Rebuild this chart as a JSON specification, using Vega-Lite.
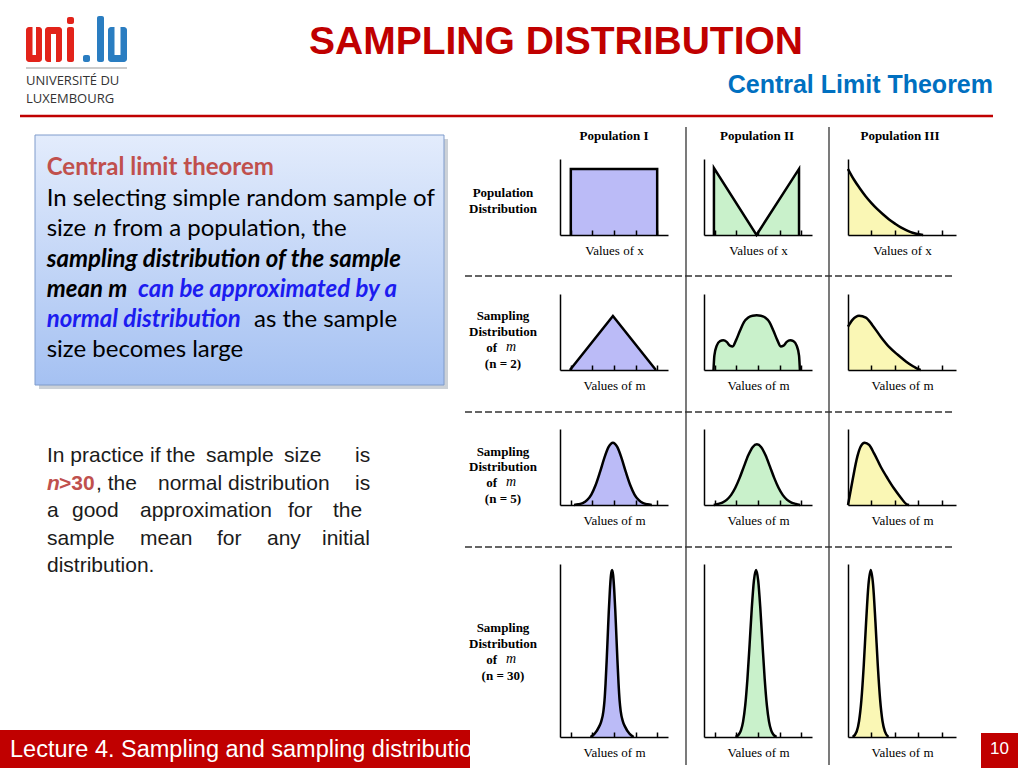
{
"$schema":"https://vega.github.io/schema/vega-lite/v6.json",
"padding":0,
"background":"white",
"bounds":"flush",
"spacing":0,
"config":{
 "aria":false,
 "view":{"stroke":null},
 "text":{"baseline":"alphabetic","align":"left","font":"Liberation Sans","color":"black"},
 "axisX":{"domainColor":"black","domainWidth":1.5,"tickColor":"black","tickWidth":1.5,"tickSize":-5,"labels":false,"grid":false,"titleFont":"Liberation Serif","titleFontSize":13,"titleFontWeight":"normal","titleColor":"black","titlePadding":9},
 "axisY":{"domainColor":"black","domainWidth":1.5,"ticks":false,"labels":false,"grid":false}
},
"datasets":{"curves":[
{"p":"I0","x":0.5,"y":0},{"p":"I0","x":0.501,"y":0.87},{"p":"I0","x":4.499,"y":0.87},{"p":"I0","x":4.5,"y":0},
{"p":"II0","x":0.46,"y":0},{"p":"II0","x":0.461,"y":0.88},{"p":"II0","x":2.43,"y":0},{"p":"II0","x":4.399,"y":0.87},{"p":"II0","x":4.4,"y":0},
{"p":"III0","x":0,"y":0.868},{"p":"III0","x":0.25,"y":0.73},{"p":"III0","x":0.5,"y":0.615},{"p":"III0","x":0.75,"y":0.51},{"p":"III0","x":1,"y":0.42},{"p":"III0","x":1.25,"y":0.34},{"p":"III0","x":1.5,"y":0.27},{"p":"III0","x":1.75,"y":0.205},{"p":"III0","x":2,"y":0.15},{"p":"III0","x":2.25,"y":0.1},{"p":"III0","x":2.5,"y":0.062},{"p":"III0","x":2.75,"y":0.03},{"p":"III0","x":3,"y":0.01},{"p":"III0","x":3.2,"y":0},
{"p":"I2","x":0.46,"y":0},{"p":"I2","x":2.45,"y":0.71},{"p":"I2","x":4.44,"y":0},
{"p":"II2","x":0.44,"y":0},{"p":"II2","x":0.48,"y":0.19},{"p":"II2","x":0.59,"y":0.32},{"p":"II2","x":0.74,"y":0.38},{"p":"II2","x":0.89,"y":0.39},{"p":"II2","x":1.05,"y":0.37},{"p":"II2","x":1.2,"y":0.32},{"p":"II2","x":1.33,"y":0.31},{"p":"II2","x":1.48,"y":0.39},{"p":"II2","x":1.67,"y":0.52},{"p":"II2","x":1.85,"y":0.63},{"p":"II2","x":2.05,"y":0.69},{"p":"II2","x":2.25,"y":0.715},{"p":"II2","x":2.44,"y":0.72},{"p":"II2","x":2.63,"y":0.715},{"p":"II2","x":2.83,"y":0.69},{"p":"II2","x":3.03,"y":0.63},{"p":"II2","x":3.21,"y":0.52},{"p":"II2","x":3.4,"y":0.39},{"p":"II2","x":3.55,"y":0.31},{"p":"II2","x":3.68,"y":0.32},{"p":"II2","x":3.83,"y":0.37},{"p":"II2","x":3.99,"y":0.39},{"p":"II2","x":4.14,"y":0.38},{"p":"II2","x":4.29,"y":0.32},{"p":"II2","x":4.4,"y":0.19},{"p":"II2","x":4.44,"y":0},
{"p":"III2","x":0,"y":0.57},{"p":"III2","x":0.19,"y":0.66},{"p":"III2","x":0.47,"y":0.715},{"p":"III2","x":0.76,"y":0.69},{"p":"III2","x":1.04,"y":0.59},{"p":"III2","x":1.4,"y":0.435},{"p":"III2","x":1.76,"y":0.3},{"p":"III2","x":2.12,"y":0.2},{"p":"III2","x":2.48,"y":0.11},{"p":"III2","x":2.77,"y":0.05},{"p":"III2","x":2.98,"y":0.013},{"p":"III2","x":3.1,"y":0},
{"p":"I5","x":0.65,"y":0},{"p":"I5","x":0.85,"y":0.009},{"p":"I5","x":1.05,"y":0.025},{"p":"I5","x":1.25,"y":0.063},{"p":"I5","x":1.45,"y":0.138},{"p":"I5","x":1.65,"y":0.263},{"p":"I5","x":1.85,"y":0.432},{"p":"I5","x":2.05,"y":0.617},{"p":"I5","x":2.25,"y":0.764},{"p":"I5","x":2.45,"y":0.82},{"p":"I5","x":2.65,"y":0.764},{"p":"I5","x":2.85,"y":0.617},{"p":"I5","x":3.05,"y":0.432},{"p":"I5","x":3.25,"y":0.263},{"p":"I5","x":3.45,"y":0.138},{"p":"I5","x":3.65,"y":0.063},{"p":"I5","x":3.85,"y":0.025},{"p":"I5","x":4.05,"y":0.009},{"p":"I5","x":4.25,"y":0},
{"p":"II5","x":0.45,"y":0},{"p":"II5","x":0.65,"y":0.014},{"p":"II5","x":0.85,"y":0.032},{"p":"II5","x":1.05,"y":0.068},{"p":"II5","x":1.25,"y":0.13},{"p":"II5","x":1.45,"y":0.227},{"p":"II5","x":1.65,"y":0.357},{"p":"II5","x":1.85,"y":0.508},{"p":"II5","x":2.05,"y":0.654},{"p":"II5","x":2.25,"y":0.761},{"p":"II5","x":2.45,"y":0.8},{"p":"II5","x":2.65,"y":0.761},{"p":"II5","x":2.85,"y":0.654},{"p":"II5","x":3.05,"y":0.508},{"p":"II5","x":3.25,"y":0.357},{"p":"II5","x":3.45,"y":0.227},{"p":"II5","x":3.65,"y":0.13},{"p":"II5","x":3.85,"y":0.068},{"p":"II5","x":4.05,"y":0.032},{"p":"II5","x":4.25,"y":0.014},{"p":"II5","x":4.45,"y":0},
{"p":"III5","x":0,"y":0},{"p":"III5","x":0.19,"y":0.32},{"p":"III5","x":0.4,"y":0.64},{"p":"III5","x":0.54,"y":0.77},{"p":"III5","x":0.71,"y":0.82},{"p":"III5","x":0.9,"y":0.79},{"p":"III5","x":1.11,"y":0.68},{"p":"III5","x":1.4,"y":0.5},{"p":"III5","x":1.69,"y":0.348},{"p":"III5","x":1.97,"y":0.213},{"p":"III5","x":2.26,"y":0.093},{"p":"III5","x":2.48,"y":0.013},{"p":"III5","x":2.6,"y":0},
{"p":"I30","x":1.41,"y":0},{"p":"I30","x":1.61,"y":0.02},{"p":"I30","x":1.81,"y":0.06},{"p":"I30","x":1.91,"y":0.09},{"p":"I30","x":2.01,"y":0.15},{"p":"I30","x":2.06,"y":0.21},{"p":"I30","x":2.11,"y":0.31},{"p":"I30","x":2.16,"y":0.44},{"p":"I30","x":2.21,"y":0.585},{"p":"I30","x":2.26,"y":0.73},{"p":"I30","x":2.31,"y":0.85},{"p":"I30","x":2.36,"y":0.935},{"p":"I30","x":2.41,"y":0.965},{"p":"I30","x":2.46,"y":0.935},{"p":"I30","x":2.51,"y":0.85},{"p":"I30","x":2.56,"y":0.73},{"p":"I30","x":2.61,"y":0.585},{"p":"I30","x":2.66,"y":0.44},{"p":"I30","x":2.71,"y":0.31},{"p":"I30","x":2.76,"y":0.21},{"p":"I30","x":2.81,"y":0.15},{"p":"I30","x":2.91,"y":0.09},{"p":"I30","x":3.01,"y":0.06},{"p":"I30","x":3.21,"y":0.02},{"p":"I30","x":3.41,"y":0},
{"p":"II30","x":1.46,"y":0},{"p":"II30","x":1.61,"y":0.014},{"p":"II30","x":1.71,"y":0.038},{"p":"II30","x":1.81,"y":0.089},{"p":"II30","x":1.91,"y":0.184},{"p":"II30","x":2.01,"y":0.335},{"p":"II30","x":2.11,"y":0.532},{"p":"II30","x":2.21,"y":0.74},{"p":"II30","x":2.31,"y":0.903},{"p":"II30","x":2.41,"y":0.965},{"p":"II30","x":2.51,"y":0.903},{"p":"II30","x":2.61,"y":0.74},{"p":"II30","x":2.71,"y":0.532},{"p":"II30","x":2.81,"y":0.335},{"p":"II30","x":2.91,"y":0.184},{"p":"II30","x":3.01,"y":0.089},{"p":"II30","x":3.11,"y":0.038},{"p":"II30","x":3.21,"y":0.014},{"p":"II30","x":3.36,"y":0},
{"p":"III30","x":0.2,"y":0},{"p":"III30","x":0.37,"y":0.032},{"p":"III30","x":0.47,"y":0.091},{"p":"III30","x":0.57,"y":0.213},{"p":"III30","x":0.67,"y":0.412},{"p":"III30","x":0.77,"y":0.661},{"p":"III30","x":0.87,"y":0.878},{"p":"III30","x":0.97,"y":0.965},{"p":"III30","x":1.07,"y":0.878},{"p":"III30","x":1.17,"y":0.661},{"p":"III30","x":1.27,"y":0.412},{"p":"III30","x":1.37,"y":0.213},{"p":"III30","x":1.47,"y":0.091},{"p":"III30","x":1.57,"y":0.032},{"p":"III30","x":1.72,"y":0}
]},
"hconcat":[
{
 "width":560,"height":768,
 "data":{"values":[{}]},
 "layer":[
  {"mark":{"type":"rect","color":"#8f98a6","opacity":0.45},"encoding":{"x":{"datum":39,"type":"quantitative","scale":{"domain":[0,560],"nice":false,"zero":false},"axis":null},"x2":{"datum":448},"y":{"datum":139,"type":"quantitative","scale":{"domain":[0,768],"nice":false,"zero":false,"reverse":true},"axis":null},"y2":{"datum":389}}},
  {"mark":{"type":"rect","fill":{"gradient":"linear","x1":0,"y1":0,"x2":0,"y2":1,"stops":[{"offset":0,"color":"#E3ECFC"},{"offset":1,"color":"#A5C1F2"}]},"stroke":"#7E9BCB","strokeWidth":1},"encoding":{"x":{"datum":35,"axis":null},"x2":{"datum":444},"y":{"datum":135,"axis":null},"y2":{"datum":385}}},

  {"mark":{"type":"rect","color":"#E2231A","cornerRadius":3},"encoding":{"x":{"datum":26,"axis":null},"x2":{"datum":42},"y":{"datum":27,"axis":null},"y2":{"datum":62}}},
  {"mark":{"type":"rect","color":"white"},"encoding":{"x":{"datum":32.5,"axis":null},"x2":{"datum":36},"y":{"datum":26,"axis":null},"y2":{"datum":55}}},
  {"mark":{"type":"rect","color":"#E2231A","cornerRadius":3},"encoding":{"x":{"datum":45,"axis":null},"x2":{"datum":62},"y":{"datum":27,"axis":null},"y2":{"datum":62}}},
  {"mark":{"type":"rect","color":"white"},"encoding":{"x":{"datum":51,"axis":null},"x2":{"datum":56},"y":{"datum":34,"axis":null},"y2":{"datum":63}}},
  {"mark":{"type":"rect","color":"#E2231A","cornerRadius":2},"encoding":{"x":{"datum":67,"axis":null},"x2":{"datum":74},"y":{"datum":27,"axis":null},"y2":{"datum":62}}},
  {"mark":{"type":"rect","color":"#E2231A","cornerRadius":2},"encoding":{"x":{"datum":67,"axis":null},"x2":{"datum":74},"y":{"datum":17,"axis":null},"y2":{"datum":24}}},
  {"mark":{"type":"rect","color":"#2A7DC1","cornerRadius":2},"encoding":{"x":{"datum":83,"axis":null},"x2":{"datum":90},"y":{"datum":55,"axis":null},"y2":{"datum":62}}},
  {"mark":{"type":"rect","color":"#2A7DC1","cornerRadius":2},"encoding":{"x":{"datum":97,"axis":null},"x2":{"datum":104},"y":{"datum":16,"axis":null},"y2":{"datum":62}}},
  {"mark":{"type":"rect","color":"#2A7DC1","cornerRadius":3},"encoding":{"x":{"datum":108,"axis":null},"x2":{"datum":127},"y":{"datum":27,"axis":null},"y2":{"datum":62}}},
  {"mark":{"type":"rect","color":"white"},"encoding":{"x":{"datum":114.5,"axis":null},"x2":{"datum":120.5},"y":{"datum":26,"axis":null},"y2":{"datum":55}}},
  {"mark":{"type":"rule","color":"#999999","strokeWidth":1},"encoding":{"x":{"datum":26,"axis":null},"x2":{"datum":127},"y":{"datum":68,"axis":null}}},
  {"mark":{"type":"text","font":"Open Sans","fontSize":13,"color":"#333333"},"encoding":{"x":{"datum":26,"axis":null},"y":{"datum":85,"axis":null},"text":{"value":"UNIVERSITÉ DU"}}},
  {"mark":{"type":"text","font":"Open Sans","fontSize":13,"color":"#333333"},"encoding":{"x":{"datum":26,"axis":null},"y":{"datum":103,"axis":null},"text":{"value":"LUXEMBOURG"}}},

  {"mark":{"type":"text","align":"center","fontSize":39,"fontWeight":"bold","color":"#C00000"},"encoding":{"x":{"datum":556,"axis":null},"y":{"datum":54,"axis":null},"text":{"value":"SAMPLING DISTRIBUTION"}}},
  {"mark":{"type":"text","align":"right","fontSize":25,"fontWeight":"bold","color":"#0070C0"},"encoding":{"x":{"datum":993,"axis":null},"y":{"datum":93,"axis":null},"text":{"value":"Central Limit Theorem"}}},
  {"mark":{"type":"rule","color":"#C00000","strokeWidth":2.5},"encoding":{"x":{"datum":20,"axis":null},"x2":{"datum":993},"y":{"datum":116,"axis":null}}},

  {"mark":{"type":"text","font":"Lato","fontSize":24,"fontWeight":"bold","color":"#C0504D"},"encoding":{"x":{"datum":46.7,"axis":null},"y":{"datum":175,"axis":null},"text":{"value":"Central limit theorem"}}},
  {"mark":{"type":"text","font":"Lato","fontSize":24},"encoding":{"x":{"datum":46.7,"axis":null},"y":{"datum":206,"axis":null},"text":{"value":"In selecting simple random sample of"}}},
  {"mark":{"type":"text","font":"Lato","fontSize":24},"encoding":{"x":{"datum":46.7,"axis":null},"y":{"datum":236,"axis":null},"text":{"value":"size"}}},
  {"mark":{"type":"text","font":"Lato","fontSize":24,"fontStyle":"italic"},"encoding":{"x":{"datum":94,"axis":null},"y":{"datum":236,"axis":null},"text":{"value":"n"}}},
  {"mark":{"type":"text","font":"Lato","fontSize":24},"encoding":{"x":{"datum":113,"axis":null},"y":{"datum":236,"axis":null},"text":{"value":"from a population, the"}}},
  {"mark":{"type":"text","font":"Lato","fontSize":24,"fontWeight":"bold","fontStyle":"italic"},"encoding":{"x":{"datum":46.7,"axis":null},"y":{"datum":267,"axis":null},"text":{"value":"sampling distribution of the sample"}}},
  {"mark":{"type":"text","font":"Lato","fontSize":24,"fontWeight":"bold","fontStyle":"italic"},"encoding":{"x":{"datum":46.7,"axis":null},"y":{"datum":297,"axis":null},"text":{"value":"mean m"}}},
  {"mark":{"type":"text","font":"Lato","fontSize":24,"fontWeight":"bold","fontStyle":"italic","color":"#1C1CF0"},"encoding":{"x":{"datum":138,"axis":null},"y":{"datum":297,"axis":null},"text":{"value":"can be approximated by a"}}},
  {"mark":{"type":"text","font":"Lato","fontSize":24,"fontWeight":"bold","fontStyle":"italic","color":"#1C1CF0"},"encoding":{"x":{"datum":46.7,"axis":null},"y":{"datum":327,"axis":null},"text":{"value":"normal distribution"}}},
  {"mark":{"type":"text","font":"Lato","fontSize":24},"encoding":{"x":{"datum":254,"axis":null},"y":{"datum":327,"axis":null},"text":{"value":"as the sample"}}},
  {"mark":{"type":"text","font":"Lato","fontSize":24},"encoding":{"x":{"datum":46.7,"axis":null},"y":{"datum":357,"axis":null},"text":{"value":"size becomes large"}}},

  {"mark":{"type":"text","fontSize":21,"color":"#1b1b1b"},"encoding":{"x":{"datum":47,"axis":null},"y":{"datum":462,"axis":null},"text":{"value":"In practice"}}},
  {"mark":{"type":"text","fontSize":21,"color":"#1b1b1b"},"encoding":{"x":{"datum":150,"axis":null},"y":{"datum":462,"axis":null},"text":{"value":"if the"}}},
  {"mark":{"type":"text","fontSize":21,"color":"#1b1b1b"},"encoding":{"x":{"datum":206,"axis":null},"y":{"datum":462,"axis":null},"text":{"value":"sample"}}},
  {"mark":{"type":"text","fontSize":21,"color":"#1b1b1b"},"encoding":{"x":{"datum":284,"axis":null},"y":{"datum":462,"axis":null},"text":{"value":"size"}}},
  {"mark":{"type":"text","fontSize":21,"color":"#1b1b1b"},"encoding":{"x":{"datum":355,"axis":null},"y":{"datum":462,"axis":null},"text":{"value":"is"}}},
  {"mark":{"type":"text","fontSize":21,"fontWeight":"bold","fontStyle":"italic","color":"#C0504D"},"encoding":{"x":{"datum":47,"axis":null},"y":{"datum":490,"axis":null},"text":{"value":"n"}}},
  {"mark":{"type":"text","fontSize":21,"fontWeight":"bold","color":"#C0504D"},"encoding":{"x":{"datum":59,"axis":null},"y":{"datum":490,"axis":null},"text":{"value":">30"}}},
  {"mark":{"type":"text","fontSize":21,"color":"#1b1b1b"},"encoding":{"x":{"datum":96,"axis":null},"y":{"datum":490,"axis":null},"text":{"value":", the"}}},
  {"mark":{"type":"text","fontSize":21,"color":"#1b1b1b"},"encoding":{"x":{"datum":158,"axis":null},"y":{"datum":490,"axis":null},"text":{"value":"normal"}}},
  {"mark":{"type":"text","fontSize":21,"color":"#1b1b1b"},"encoding":{"x":{"datum":228,"axis":null},"y":{"datum":490,"axis":null},"text":{"value":"distribution"}}},
  {"mark":{"type":"text","fontSize":21,"color":"#1b1b1b"},"encoding":{"x":{"datum":355,"axis":null},"y":{"datum":490,"axis":null},"text":{"value":"is"}}},
  {"mark":{"type":"text","fontSize":21,"color":"#1b1b1b"},"encoding":{"x":{"datum":47,"axis":null},"y":{"datum":517,"axis":null},"text":{"value":"a"}}},
  {"mark":{"type":"text","fontSize":21,"color":"#1b1b1b"},"encoding":{"x":{"datum":72,"axis":null},"y":{"datum":517,"axis":null},"text":{"value":"good"}}},
  {"mark":{"type":"text","fontSize":21,"color":"#1b1b1b"},"encoding":{"x":{"datum":140,"axis":null},"y":{"datum":517,"axis":null},"text":{"value":"approximation"}}},
  {"mark":{"type":"text","fontSize":21,"color":"#1b1b1b"},"encoding":{"x":{"datum":288,"axis":null},"y":{"datum":517,"axis":null},"text":{"value":"for\u00a0"}}},
  {"mark":{"type":"text","fontSize":21,"color":"#1b1b1b"},"encoding":{"x":{"datum":333,"axis":null},"y":{"datum":517,"axis":null},"text":{"value":"the"}}},
  {"mark":{"type":"text","fontSize":21,"color":"#1b1b1b"},"encoding":{"x":{"datum":47,"axis":null},"y":{"datum":545,"axis":null},"text":{"value":"sample"}}},
  {"mark":{"type":"text","fontSize":21,"color":"#1b1b1b"},"encoding":{"x":{"datum":140,"axis":null},"y":{"datum":545,"axis":null},"text":{"value":"mean"}}},
  {"mark":{"type":"text","fontSize":21,"color":"#1b1b1b"},"encoding":{"x":{"datum":217,"axis":null},"y":{"datum":545,"axis":null},"text":{"value":"for\u00a0"}}},
  {"mark":{"type":"text","fontSize":21,"color":"#1b1b1b"},"encoding":{"x":{"datum":267,"axis":null},"y":{"datum":545,"axis":null},"text":{"value":"any"}}},
  {"mark":{"type":"text","fontSize":21,"color":"#1b1b1b"},"encoding":{"x":{"datum":322,"axis":null},"y":{"datum":545,"axis":null},"text":{"value":"initial"}}},
  {"mark":{"type":"text","fontSize":21,"color":"#1b1b1b"},"encoding":{"x":{"datum":47,"axis":null},"y":{"datum":572,"axis":null},"text":{"value":"distribution."}}},

  {"mark":{"type":"rule","color":"#333333","strokeWidth":1.3},"encoding":{"x":{"datum":686,"axis":null},"y":{"datum":127,"axis":null},"y2":{"datum":765}}},
  {"mark":{"type":"rule","color":"#333333","strokeWidth":1.3},"encoding":{"x":{"datum":829,"axis":null},"y":{"datum":127,"axis":null},"y2":{"datum":765}}},
  {"mark":{"type":"rule","color":"#333333","strokeWidth":1.3,"strokeDash":[7,3]},"encoding":{"x":{"datum":465,"axis":null},"x2":{"datum":955},"y":{"datum":276,"axis":null}}},
  {"mark":{"type":"rule","color":"#333333","strokeWidth":1.3,"strokeDash":[7,3]},"encoding":{"x":{"datum":465,"axis":null},"x2":{"datum":955},"y":{"datum":412,"axis":null}}},
  {"mark":{"type":"rule","color":"#333333","strokeWidth":1.3,"strokeDash":[7,3]},"encoding":{"x":{"datum":465,"axis":null},"x2":{"datum":955},"y":{"datum":547,"axis":null}}},

  {"mark":{"type":"text","align":"center","font":"Liberation Serif","fontSize":13,"fontWeight":"bold"},"encoding":{"x":{"datum":614,"axis":null},"y":{"datum":139.5,"axis":null},"text":{"value":"Population I"}}},
  {"mark":{"type":"text","align":"center","font":"Liberation Serif","fontSize":13,"fontWeight":"bold"},"encoding":{"x":{"datum":757,"axis":null},"y":{"datum":139.5,"axis":null},"text":{"value":"Population II"}}},
  {"mark":{"type":"text","align":"center","font":"Liberation Serif","fontSize":13,"fontWeight":"bold"},"encoding":{"x":{"datum":900,"axis":null},"y":{"datum":139.5,"axis":null},"text":{"value":"Population III"}}},

  {"mark":{"type":"text","align":"center","baseline":"middle","font":"Liberation Serif","fontSize":13,"fontWeight":"bold"},"encoding":{"x":{"datum":503,"axis":null},"y":{"datum":193,"axis":null},"text":{"value":"Population"}}},
  {"mark":{"type":"text","align":"center","baseline":"middle","font":"Liberation Serif","fontSize":13,"fontWeight":"bold"},"encoding":{"x":{"datum":503,"axis":null},"y":{"datum":209,"axis":null},"text":{"value":"Distribution"}}},

  {"mark":{"type":"text","align":"center","baseline":"middle","font":"Liberation Serif","fontSize":13,"fontWeight":"bold"},"encoding":{"x":{"datum":503,"axis":null},"y":{"datum":316,"axis":null},"text":{"value":"Sampling"}}},
  {"mark":{"type":"text","align":"center","baseline":"middle","font":"Liberation Serif","fontSize":13,"fontWeight":"bold"},"encoding":{"x":{"datum":503,"axis":null},"y":{"datum":332,"axis":null},"text":{"value":"Distribution"}}},
  {"mark":{"type":"text","align":"right","baseline":"middle","font":"Liberation Serif","fontSize":13,"fontWeight":"bold"},"encoding":{"x":{"datum":497,"axis":null},"y":{"datum":348,"axis":null},"text":{"value":"of\u00a0"}}},
  {"mark":{"type":"text","align":"left","baseline":"middle","font":"Liberation Serif","fontSize":14,"fontStyle":"italic"},"encoding":{"x":{"datum":506,"axis":null},"y":{"datum":347,"axis":null},"text":{"value":"m\u00a0"}}},
  {"mark":{"type":"text","align":"center","baseline":"middle","font":"Liberation Serif","fontSize":13,"fontWeight":"bold"},"encoding":{"x":{"datum":503,"axis":null},"y":{"datum":364,"axis":null},"text":{"value":"(n = 2)"}}},

  {"mark":{"type":"text","align":"center","baseline":"middle","font":"Liberation Serif","fontSize":13,"fontWeight":"bold"},"encoding":{"x":{"datum":503,"axis":null},"y":{"datum":452,"axis":null},"text":{"value":"Sampling"}}},
  {"mark":{"type":"text","align":"center","baseline":"middle","font":"Liberation Serif","fontSize":13,"fontWeight":"bold"},"encoding":{"x":{"datum":503,"axis":null},"y":{"datum":467,"axis":null},"text":{"value":"Distribution"}}},
  {"mark":{"type":"text","align":"right","baseline":"middle","font":"Liberation Serif","fontSize":13,"fontWeight":"bold"},"encoding":{"x":{"datum":497,"axis":null},"y":{"datum":483,"axis":null},"text":{"value":"of\u00a0"}}},
  {"mark":{"type":"text","align":"left","baseline":"middle","font":"Liberation Serif","fontSize":14,"fontStyle":"italic"},"encoding":{"x":{"datum":506,"axis":null},"y":{"datum":482,"axis":null},"text":{"value":"m\u00a0"}}},
  {"mark":{"type":"text","align":"center","baseline":"middle","font":"Liberation Serif","fontSize":13,"fontWeight":"bold"},"encoding":{"x":{"datum":503,"axis":null},"y":{"datum":499,"axis":null},"text":{"value":"(n = 5)"}}},

  {"mark":{"type":"text","align":"center","baseline":"middle","font":"Liberation Serif","fontSize":13,"fontWeight":"bold"},"encoding":{"x":{"datum":503,"axis":null},"y":{"datum":628,"axis":null},"text":{"value":"Sampling"}}},
  {"mark":{"type":"text","align":"center","baseline":"middle","font":"Liberation Serif","fontSize":13,"fontWeight":"bold"},"encoding":{"x":{"datum":503,"axis":null},"y":{"datum":644,"axis":null},"text":{"value":"Distribution"}}},
  {"mark":{"type":"text","align":"right","baseline":"middle","font":"Liberation Serif","fontSize":13,"fontWeight":"bold"},"encoding":{"x":{"datum":497,"axis":null},"y":{"datum":660,"axis":null},"text":{"value":"of\u00a0"}}},
  {"mark":{"type":"text","align":"left","baseline":"middle","font":"Liberation Serif","fontSize":14,"fontStyle":"italic"},"encoding":{"x":{"datum":506,"axis":null},"y":{"datum":659,"axis":null},"text":{"value":"m\u00a0"}}},
  {"mark":{"type":"text","align":"center","baseline":"middle","font":"Liberation Serif","fontSize":13,"fontWeight":"bold"},"encoding":{"x":{"datum":503,"axis":null},"y":{"datum":676,"axis":null},"text":{"value":"(n = 30)"}}},

  {"mark":{"type":"rect","color":"#C00000"},"encoding":{"x":{"datum":0,"axis":null},"x2":{"datum":470},"y":{"datum":730,"axis":null},"y2":{"datum":768}}},
  {"mark":{"type":"text","fontSize":23.5,"color":"white"},"encoding":{"x":{"datum":10,"axis":null},"y":{"datum":757,"axis":null},"text":{"value":"Lecture 4. Sampling and sampling distribution"}}},
  {"mark":{"type":"rect","color":"#C00000"},"encoding":{"x":{"datum":981,"axis":null},"x2":{"datum":1018},"y":{"datum":733,"axis":null},"y2":{"datum":768}}},
  {"mark":{"type":"text","align":"center","fontSize":17,"color":"white"},"encoding":{"x":{"datum":999.5,"axis":null},"y":{"datum":754,"axis":null},"text":{"value":"10"}}}
 ]
},
{
 "concat":[
  {"width":108,"height":100,"data":{"values":[{}]},"mark":{"type":"text"},"encoding":{"text":{"value":" "}}},
  {"width":108,"height":100,"data":{"values":[{}]},"mark":{"type":"text"},"encoding":{"text":{"value":" "}}},
  {"width":108,"height":100,"data":{"values":[{}]},"mark":{"type":"text"},"encoding":{"text":{"value":" "}}},
   {"width":108,"height":76,"data":{"name":"curves"},"transform":[{"filter":"datum.p=='I0'"}],"mark":{"type":"area","interpolate":"linear","color":"#BBBBF7","opacity":1,"line":{"color":"black","strokeWidth":2.5}},"encoding":{"x":{"field":"x","type":"quantitative","scale":{"domain":[0,5],"nice":false,"zero":false},"axis":{"values":[0.5,1.5,2.5,3.5,4.5],"title":"Values of x","zindex":1}},"y":{"field":"y","type":"quantitative","stack":null,"scale":{"domain":[0,1],"nice":false},"axis":{"title":null,"zindex":1}}}},
   {"width":108,"height":76,"data":{"name":"curves"},"transform":[{"filter":"datum.p=='II0'"}],"mark":{"type":"area","interpolate":"linear","color":"#C9F1CB","opacity":1,"line":{"color":"black","strokeWidth":2.5}},"encoding":{"x":{"field":"x","type":"quantitative","scale":{"domain":[0,5],"nice":false,"zero":false},"axis":{"values":[0.5,1.5,2.5,3.5,4.5],"title":"Values of x","zindex":1}},"y":{"field":"y","type":"quantitative","stack":null,"scale":{"domain":[0,1],"nice":false},"axis":{"title":null,"zindex":1}}}},
   {"width":108,"height":76,"data":{"name":"curves"},"transform":[{"filter":"datum.p=='III0'"}],"mark":{"type":"area","interpolate":"monotone","color":"#FAF7B5","opacity":1,"line":{"color":"black","strokeWidth":2.5}},"encoding":{"x":{"field":"x","type":"quantitative","scale":{"domain":[0,4.6],"nice":false,"zero":false},"axis":{"values":[1,2,3,4],"title":"Values of x","zindex":1}},"y":{"field":"y","type":"quantitative","stack":null,"scale":{"domain":[0,1],"nice":false},"axis":{"title":null,"zindex":1}}}},
   {"width":108,"height":76,"data":{"name":"curves"},"transform":[{"filter":"datum.p=='I2'"}],"mark":{"type":"area","interpolate":"linear","color":"#BBBBF7","opacity":1,"line":{"color":"black","strokeWidth":2.5}},"encoding":{"x":{"field":"x","type":"quantitative","scale":{"domain":[0,5],"nice":false,"zero":false},"axis":{"values":[0.5,1.5,2.5,3.5,4.5],"title":"Values of m","zindex":1}},"y":{"field":"y","type":"quantitative","stack":null,"scale":{"domain":[0,1],"nice":false},"axis":{"title":null,"zindex":1}}}},
   {"width":108,"height":76,"data":{"name":"curves"},"transform":[{"filter":"datum.p=='II2'"}],"mark":{"type":"area","interpolate":"monotone","color":"#C9F1CB","opacity":1,"line":{"color":"black","strokeWidth":2.5}},"encoding":{"x":{"field":"x","type":"quantitative","scale":{"domain":[0,5],"nice":false,"zero":false},"axis":{"values":[0.5,1.5,2.5,3.5,4.5],"title":"Values of m","zindex":1}},"y":{"field":"y","type":"quantitative","stack":null,"scale":{"domain":[0,1],"nice":false},"axis":{"title":null,"zindex":1}}}},
   {"width":108,"height":76,"data":{"name":"curves"},"transform":[{"filter":"datum.p=='III2'"}],"mark":{"type":"area","interpolate":"monotone","color":"#FAF7B5","opacity":1,"line":{"color":"black","strokeWidth":2.5}},"encoding":{"x":{"field":"x","type":"quantitative","scale":{"domain":[0,4.6],"nice":false,"zero":false},"axis":{"values":[1,2,3,4],"title":"Values of m","zindex":1}},"y":{"field":"y","type":"quantitative","stack":null,"scale":{"domain":[0,1],"nice":false},"axis":{"title":null,"zindex":1}}}},
   {"width":108,"height":76,"data":{"name":"curves"},"transform":[{"filter":"datum.p=='I5'"}],"mark":{"type":"area","interpolate":"monotone","color":"#BBBBF7","opacity":1,"line":{"color":"black","strokeWidth":2.5}},"encoding":{"x":{"field":"x","type":"quantitative","scale":{"domain":[0,5],"nice":false,"zero":false},"axis":{"values":[0.5,1.5,2.5,3.5,4.5],"title":"Values of m","zindex":1}},"y":{"field":"y","type":"quantitative","stack":null,"scale":{"domain":[0,1],"nice":false},"axis":{"title":null,"zindex":1}}}},
   {"width":108,"height":76,"data":{"name":"curves"},"transform":[{"filter":"datum.p=='II5'"}],"mark":{"type":"area","interpolate":"monotone","color":"#C9F1CB","opacity":1,"line":{"color":"black","strokeWidth":2.5}},"encoding":{"x":{"field":"x","type":"quantitative","scale":{"domain":[0,5],"nice":false,"zero":false},"axis":{"values":[0.5,1.5,2.5,3.5,4.5],"title":"Values of m","zindex":1}},"y":{"field":"y","type":"quantitative","stack":null,"scale":{"domain":[0,1],"nice":false},"axis":{"title":null,"zindex":1}}}},
   {"width":108,"height":76,"data":{"name":"curves"},"transform":[{"filter":"datum.p=='III5'"}],"mark":{"type":"area","interpolate":"monotone","color":"#FAF7B5","opacity":1,"line":{"color":"black","strokeWidth":2.5}},"encoding":{"x":{"field":"x","type":"quantitative","scale":{"domain":[0,4.6],"nice":false,"zero":false},"axis":{"values":[1,2,3,4],"title":"Values of m","zindex":1}},"y":{"field":"y","type":"quantitative","stack":null,"scale":{"domain":[0,1],"nice":false},"axis":{"title":null,"zindex":1}}}},
   {"width":108,"height":173,"data":{"name":"curves"},"transform":[{"filter":"datum.p=='I30'"}],"mark":{"type":"area","interpolate":"monotone","color":"#BBBBF7","opacity":1,"line":{"color":"black","strokeWidth":2.5}},"encoding":{"x":{"field":"x","type":"quantitative","scale":{"domain":[0,5],"nice":false,"zero":false},"axis":{"values":[0.5,1.5,2.5,3.5,4.5],"title":"Values of m","zindex":1}},"y":{"field":"y","type":"quantitative","stack":null,"scale":{"domain":[0,1],"nice":false},"axis":{"title":null,"zindex":1}}}},
   {"width":108,"height":173,"data":{"name":"curves"},"transform":[{"filter":"datum.p=='II30'"}],"mark":{"type":"area","interpolate":"monotone","color":"#C9F1CB","opacity":1,"line":{"color":"black","strokeWidth":2.5}},"encoding":{"x":{"field":"x","type":"quantitative","scale":{"domain":[0,5],"nice":false,"zero":false},"axis":{"values":[0.5,1.5,2.5,3.5,4.5],"title":"Values of m","zindex":1}},"y":{"field":"y","type":"quantitative","stack":null,"scale":{"domain":[0,1],"nice":false},"axis":{"title":null,"zindex":1}}}},
   {"width":108,"height":173,"data":{"name":"curves"},"transform":[{"filter":"datum.p=='III30'"}],"mark":{"type":"area","interpolate":"monotone","color":"#FAF7B5","opacity":1,"line":{"color":"black","strokeWidth":2.5}},"encoding":{"x":{"field":"x","type":"quantitative","scale":{"domain":[0,4.6],"nice":false,"zero":false},"axis":{"values":[1,2,3,4],"title":"Values of m","zindex":1}},"y":{"field":"y","type":"quantitative","stack":null,"scale":{"domain":[0,1],"nice":false},"axis":{"title":null,"zindex":1}}}}
 ],
 "columns":3,
 "spacing":{"row":59,"column":36},
 "bounds":"flush"
}
]
}
